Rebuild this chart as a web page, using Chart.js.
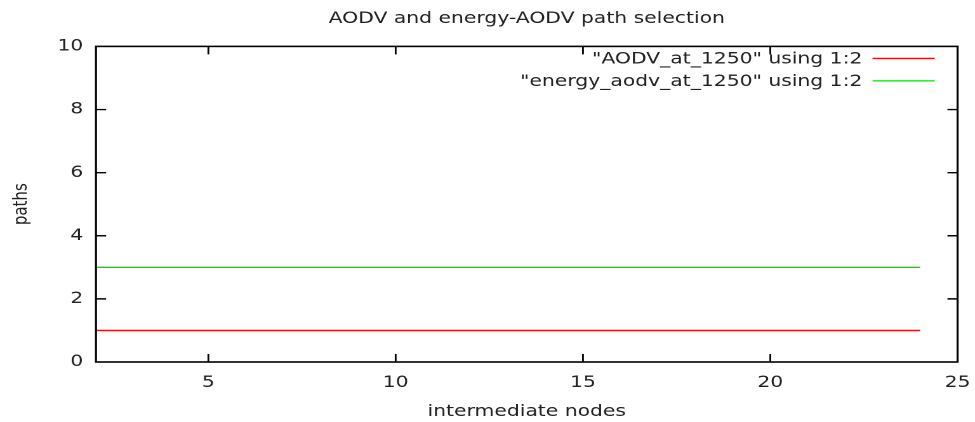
<!DOCTYPE html>
<html>
<head>
<meta charset="utf-8">
<script src="https://cdn.jsdelivr.net/npm/chart.js@4"></script>
<style>
  html, body { margin: 0; padding: 0; background: #ffffff; overflow: hidden; }
  #wrap { width: 768px; height: 422px; transform: scaleX(1.2695); transform-origin: 0 0; }
</style>
</head>
<body>
<div id="wrap"><canvas id="c" width="768" height="422"></canvas></div>
<script>
const chartTitle = 'AODV and energy-AODV path selection';
const xAxisTitle = 'intermediate nodes';
const yAxisTitle = 'paths';
const seriesLabels = ['"AODV_at_1250" using 1:2', '"energy_aodv_at_1250" using 1:2'];
const seriesColors = ['#ff0000', '#00e000'];
const xNodes = [2, 4, 6, 8, 10, 12, 14, 16, 18, 20, 22, 24];
const aodvPaths = [1, 1, 1, 1, 1, 1, 1, 1, 1, 1, 1, 1];
const energyAodvPaths = [3, 3, 3, 3, 3, 3, 3, 3, 3, 3, 3, 3];
const xTickValues = [5, 10, 15, 20, 25];
const yTickValues = [0, 2, 4, 6, 8, 10];

const FONT = 'DejaVu Sans';
const TEXT = '#222222';

function pts(xs, ys) { return xs.map((x, i) => ({ x: x, y: ys[i] })); }

const frameAndTicks = {
  id: 'frameAndTicks',
  afterDatasetsDraw(chart) {
    const ctx = chart.ctx;
    const a = chart.chartArea;
    const xs = chart.scales.x, ys = chart.scales.y;
    const L = 8;
    ctx.save();
    ctx.strokeStyle = '#000000';
    ctx.lineWidth = 1.4;
    ctx.beginPath();
    xTickValues.forEach(v => {
      const px = xs.getPixelForValue(v);
      if (px > a.left + 1 && px < a.right - 1) {
        ctx.moveTo(px, a.bottom); ctx.lineTo(px, a.bottom - L);
        ctx.moveTo(px, a.top); ctx.lineTo(px, a.top + L);
      }
    });
    yTickValues.forEach(v => {
      const py = ys.getPixelForValue(v);
      if (py > a.top + 1 && py < a.bottom - 1) {
        ctx.moveTo(a.left, py); ctx.lineTo(a.left + L, py);
        ctx.moveTo(a.right, py); ctx.lineTo(a.right - L, py);
      }
    });
    ctx.stroke();
    ctx.lineWidth = 1.6;
    ctx.strokeRect(a.left, a.top, a.right - a.left, a.bottom - a.top);
    // legend
    ctx.font = '16px "' + FONT + '"';
    ctx.textAlign = 'right';
    ctx.textBaseline = 'middle';
    chart.data.datasets.forEach((ds, i) => {
      const y = a.top + 12 + i * 22.5;
      ctx.fillStyle = TEXT;
      ctx.fillText(ds.label, a.right - 75, y + 1);
      ctx.strokeStyle = ds.borderColor;
      ctx.lineWidth = 1.3;
      ctx.beginPath();
      ctx.moveTo(a.right - 67, y);
      ctx.lineTo(a.right - 18, y);
      ctx.stroke();
    });
    ctx.restore();
  }
};

new Chart(document.getElementById('c'), {
  type: 'line',
  data: {
    datasets: [
      { label: seriesLabels[0], data: pts(xNodes, aodvPaths), borderColor: seriesColors[0], backgroundColor: seriesColors[0], borderWidth: 1.3, pointRadius: 0, fill: false, tension: 0 },
      { label: seriesLabels[1], data: pts(xNodes, energyAodvPaths), borderColor: seriesColors[1], backgroundColor: seriesColors[1], borderWidth: 1.3, pointRadius: 0, fill: false, tension: 0 }
    ]
  },
  options: {
    responsive: false,
    animation: false,
    devicePixelRatio: 2,
    layout: { padding: { left: 0, right: 13.7, top: 0, bottom: 0 } },
    plugins: {
      legend: { display: false },
      tooltip: { enabled: false },
      title: {
        display: true,
        text: chartTitle,
        fullSize: false,
        color: TEXT,
        font: { family: FONT, size: 16, weight: 'normal', lineHeight: 1.2 },
        padding: { top: 9, bottom: 18.2 }
      }
    },
    scales: {
      x: {
        type: 'linear',
        min: 2,
        max: 25,
        afterBuildTicks: s => { s.ticks = xTickValues.map(v => ({ value: v })); },
        afterFit: s => { s.height = 60; s.paddingLeft = 0; s.paddingRight = 0; },
        grid: { display: false, drawTicks: false },
        border: { display: false },
        ticks: { color: TEXT, font: { family: FONT, size: 16 }, padding: 11, maxRotation: 0, autoSkip: false },
        title: { display: true, text: xAxisTitle, color: TEXT, font: { family: FONT, size: 16, lineHeight: 1.2 }, padding: { top: 0, bottom: 0.8 } }
      },
      y: {
        type: 'linear',
        min: 0,
        max: 10,
        afterBuildTicks: s => { s.ticks = yTickValues.map(v => ({ value: v })); },
        afterFit: s => { s.width = 75.6; },
        grid: { display: false, drawTicks: false },
        border: { display: false },
        ticks: { color: TEXT, font: { family: FONT, size: 16 }, padding: 10, autoSkip: false },
        title: { display: true, text: yAxisTitle, color: TEXT, font: { family: FONT, size: 15, lineHeight: 1.2 }, padding: { top: 8, bottom: 0 } }
      }
    }
  },
  plugins: [frameAndTicks]
});
</script>
</body>
</html>
